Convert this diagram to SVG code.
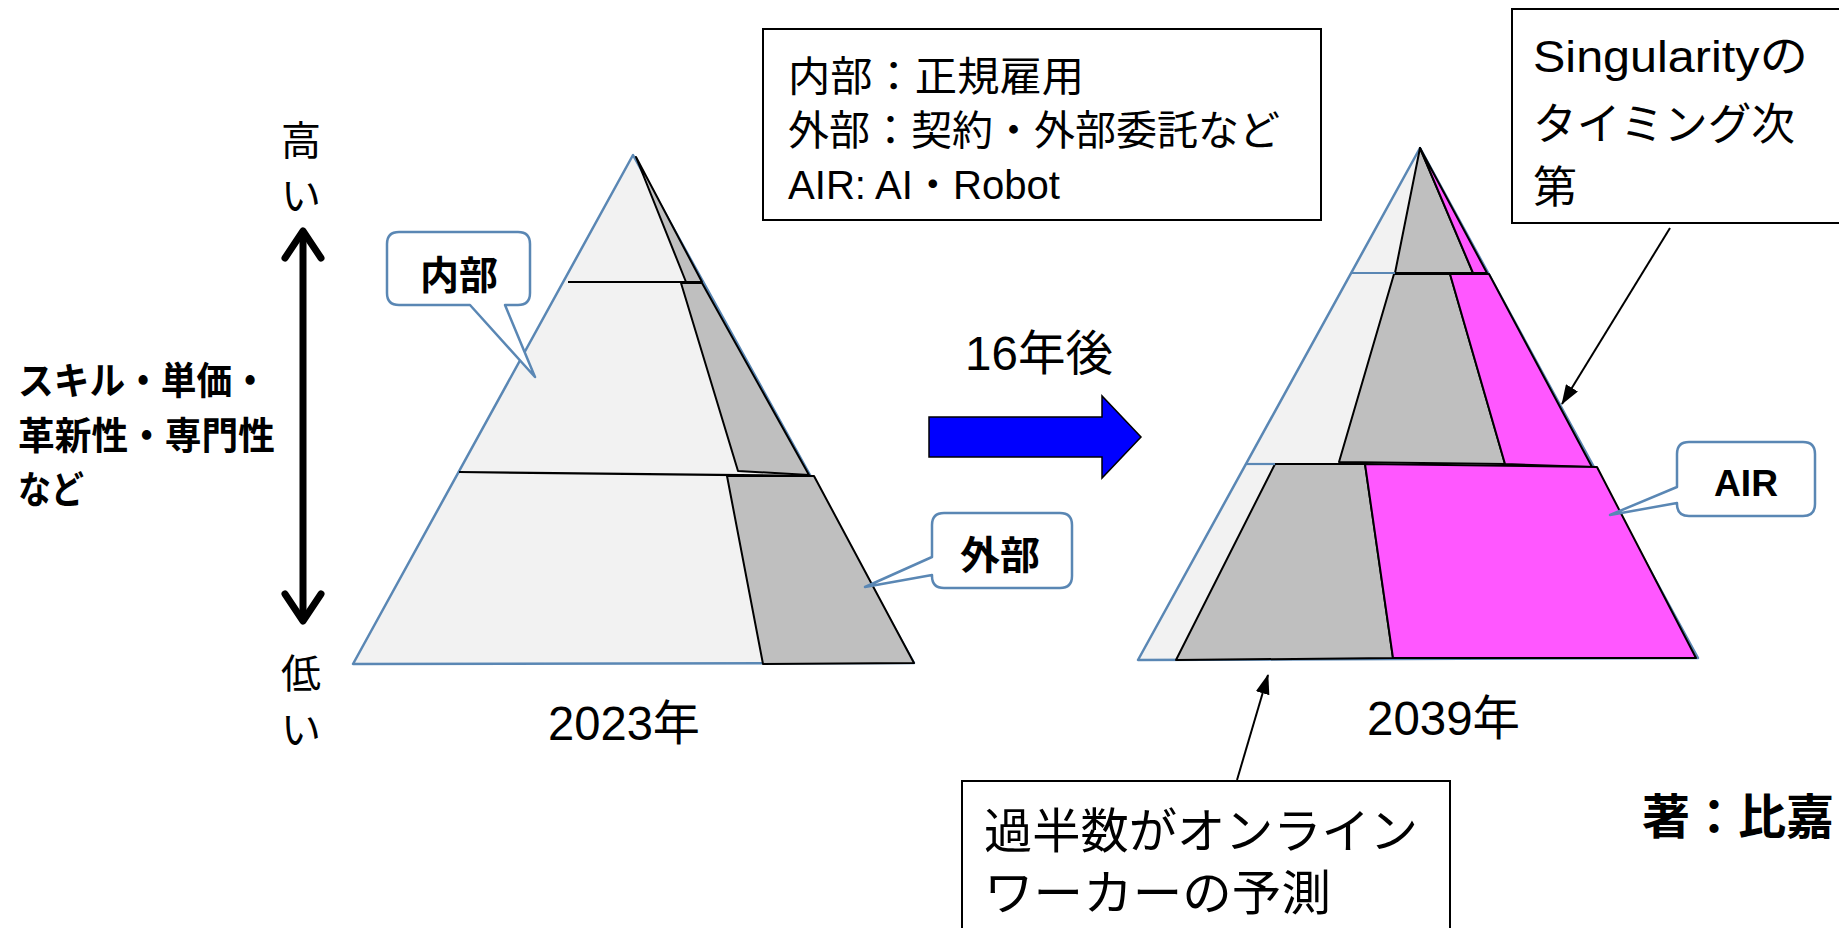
<svg xmlns="http://www.w3.org/2000/svg" width="1839" height="928" viewBox="0 0 1839 928">
<style>
.t{font-family:"Liberation Sans","Noto Sans CJK JP",sans-serif;fill:#000}
.b{font-weight:bold}
.light{fill:#f2f2f2;stroke:#5a87b4;stroke-width:2.5;stroke-linejoin:round}
.grey{fill:#bfbfbf;stroke:#000;stroke-width:2;stroke-linejoin:round}
.pink{fill:#ff57ff;stroke:#000;stroke-width:2;stroke-linejoin:round}
.ln{stroke:#000;stroke-width:2.2;fill:none}
.bl{stroke:#5a87b4;stroke-width:2.2;fill:none}
.call{fill:#fff;stroke:#5a87b4;stroke-width:2.5;stroke-linejoin:round}
.box{fill:#fff;stroke:#000;stroke-width:2}
.conn{stroke:#000;stroke-width:2;fill:none}
</style>
<defs>
<marker id="ah2" viewBox="0 0 20 14" refX="19" refY="7" markerWidth="20" markerHeight="14" markerUnits="userSpaceOnUse" orient="auto">
<path d="M0,0 L20,7 L0,14 z" fill="#000"/>
</marker>
</defs>
<rect width="1839" height="928" fill="#fff"/>

<g id="axis">
<text class="t" x="301" y="155" font-size="40" text-anchor="middle">高</text>
<text class="t" x="301" y="210" font-size="40" text-anchor="middle">い</text>
<text class="t" x="301" y="688" font-size="40" text-anchor="middle">低</text>
<text class="t" x="301" y="744" font-size="40" text-anchor="middle">い</text>
<line x1="303" y1="234" x2="303" y2="618" stroke="#000" stroke-width="7"/>
<polyline points="285,258 303,231 321,258" fill="none" stroke="#000" stroke-width="7" stroke-linejoin="round" stroke-linecap="round"/>
<polyline points="285,594 303,621 321,594" fill="none" stroke="#000" stroke-width="7" stroke-linejoin="round" stroke-linecap="round"/>
</g>

<g id="axis-label">
<text class="t b" x="18" y="394" font-size="38" textLength="250" lengthAdjust="spacingAndGlyphs">スキル・単価・</text>
<text class="t b" x="18" y="449" font-size="38" textLength="257" lengthAdjust="spacingAndGlyphs">革新性・専門性</text>
<text class="t b" x="18" y="503" font-size="38" textLength="66" lengthAdjust="spacingAndGlyphs">など</text>
</g>

<g id="pyramid-2023">
<polygon class="light" points="633,155 353,664 914,663"/>
<polygon class="grey" points="636,157 686,282 702,282"/>
<polygon class="grey" points="681,283 702,283 809,475 738,471"/>
<polygon class="grey" points="727,476 814,476 914,663 763,664"/>
<line class="ln" x1="568" y1="282" x2="702" y2="282"/>
<line class="ln" x1="459" y1="472" x2="814" y2="476"/>
</g>

<g id="pyramid-2039">
<polygon class="light" points="1420,148 1138,660 1698,658"/>
<polygon class="grey" points="1420,148 1395,273 1473,273"/>
<polygon class="pink" points="1420,148 1473,273 1487,273"/>
<polygon class="grey" points="1394,274 1450,274 1505,464 1339,462"/>
<polygon class="pink" points="1450,274 1489,274 1592,467 1505,464"/>
<polygon class="grey" points="1275,464 1365,464 1393,658 1176,660"/>
<polygon class="pink" points="1365,464 1597,467 1696,658 1393,658"/>
<line class="bl" x1="1351" y1="273" x2="1395" y2="273"/>
<line class="bl" x1="1246" y1="464" x2="1275" y2="464"/>
</g>

<g id="label-2023"><text class="t" x="548" y="740" font-size="48" textLength="152" lengthAdjust="spacingAndGlyphs">2023年</text></g>
<g id="label-2039"><text class="t" x="1367" y="735" font-size="48" textLength="153" lengthAdjust="spacingAndGlyphs">2039年</text></g>

<g id="transition">
<polygon points="929,417 1102,417 1102,396 1141,437 1102,478 1102,457 929,457" fill="#0000ff" stroke="#000" stroke-width="1.5" stroke-linejoin="miter"/>
<text class="t" x="965" y="370" font-size="48" textLength="148" lengthAdjust="spacingAndGlyphs">16年後</text>
</g>

<g id="legend">
<rect class="box" x="763" y="29" width="558" height="191"/>
<text class="t" x="788" y="91" font-size="41" textLength="296" lengthAdjust="spacingAndGlyphs">内部：正規雇用</text>
<text class="t" x="788" y="145" font-size="41" textLength="492" lengthAdjust="spacingAndGlyphs">外部：契約・外部委託など</text>
<text class="t" x="788" y="199" font-size="40" textLength="272" lengthAdjust="spacingAndGlyphs">AIR: AI・Robot</text>
</g>

<g id="callout-naibu">
<path class="call" d="M399,232 H518 Q530,232 530,244 V293 Q530,305 518,305 H505 L535,377 L470,305 H399 Q387,305 387,293 V244 Q387,232 399,232 Z"/>
<text class="t b" x="420" y="289" font-size="39" textLength="78" lengthAdjust="spacingAndGlyphs">内部</text>
</g>

<g id="callout-gaibu">
<path class="call" d="M944,513 H1060 Q1072,513 1072,525 V576 Q1072,588 1060,588 H944 Q932,588 932,576 V575 L865,587 L932,557 V525 Q932,513 944,513 Z"/>
<text class="t b" x="960" y="569" font-size="39" textLength="80" lengthAdjust="spacingAndGlyphs">外部</text>
</g>

<g id="callout-air">
<path class="call" d="M1689,442 H1803 Q1815,442 1815,454 V504 Q1815,516 1803,516 H1689 Q1677,516 1677,504 V503 L1610,515 L1677,487 V454 Q1677,442 1689,442 Z"/>
<text class="t b" x="1714" y="496" font-size="36" textLength="64" lengthAdjust="spacingAndGlyphs">AIR</text>
</g>

<g id="note-singularity">
<rect class="box" x="1512" y="9" width="340" height="214"/>
<text class="t" x="1533" y="72" font-size="44" textLength="275" lengthAdjust="spacingAndGlyphs">Singularityの</text>
<text class="t" x="1533" y="140" font-size="44" textLength="262" lengthAdjust="spacingAndGlyphs">タイミング次</text>
<text class="t" x="1533" y="203" font-size="44">第</text>
</g>

<g id="note-online">
<rect class="box" x="962" y="781" width="488" height="160"/>
<text class="t" x="984" y="848" font-size="48" textLength="434" lengthAdjust="spacingAndGlyphs">過半数がオンライン</text>
<text class="t" x="984" y="910" font-size="48" textLength="347" lengthAdjust="spacingAndGlyphs">ワーカーの予測</text>
</g>

<g id="author">
<text class="t b" x="1642" y="834" font-size="48">著：比嘉</text>
</g>

<g id="connectors">
<line class="conn" x1="1670" y1="228" x2="1562" y2="404" marker-end="url(#ah2)"/>
<line class="conn" x1="1237" y1="780" x2="1268" y2="675" marker-end="url(#ah2)"/>
</g>
</svg>
